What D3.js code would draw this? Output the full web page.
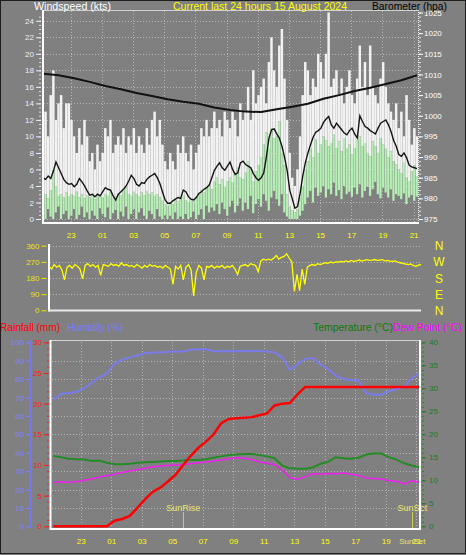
<!DOCTYPE html>
<html>
<head>
<meta charset="utf-8">
<script src="https://cdn.jsdelivr.net/npm/d3@7"></script>
<style>
  body { margin: 0; background: #808080; }
  svg { display: block; }
</style>
</head>
<body>
<div id="chart"></div>
<script>
// samples start at 21:13 and cover 24 hours
const startHour = 21 + 13 / 60;

// x tick positions (hours, > 24 means next day) and their labels
const tickHours = [23, 25, 27, 29, 31, 33, 35, 37, 39, 41, 43, 45];
const hourLabels = ['23', '01', '03', '05', '07', '09', '11', '13', '15', '17', '19', '21'];

// windspeed, 10 minute samples (kts)
const windGust = [11,13,10,15,18,12,14,15,11,14,14,12, 10,8,11,9,12,10, 7,8,6,9,7,8, 11,10,12,8,9,10,
  9,11,8,10,9,11, 8,10,9,8,11,9, 12,13,10,12,9,7, 6,8,7,6,9,8, 10,8,7,9,6,8, 9,11,10,12,10,11,
  13,11,12,10,13,12, 11,13,12,10,14,12, 13,16,12,18,14,15, 16,17,14,19,22,18, 16,21,23,17,12,8,
  5,4,6,10,15,19, 18,15,17,16,20,19, 17,20,25,16,17,18, 15,17,14,16,18,15, 14,17,21,16,19,15,
  21,16,15,14,17,19, 16,14,13,12,14,11, 13,10,15,12,9,11,10];
const windLullHigh = [2.7,3,2.5,3.5,5.9,4,2.8,3,2.6,3.2,2.7,3, 2.8,3.3,2.6,3,2.5,2.9, 2.6,2.8,2.4,3,2.7,2.6,
  3,2.8,3.2,2.5,2.7,3, 2.9,3.4,3.8,3,2.8,3.3, 3,2.7,3.2,2.9,3.4,3, 3.2,2.8,3,2.6,2.2,1.8,
  1.6,2,1.8,2.3,2.1,2.5, 2.8,2.3,2,2.4,2.2,2.6, 3,3.5,3.2,3.8,4.2,3.6, 4.5,5,4.2,4.8,3.9,4.6,
  5,4.4,5.5,6.2,5,4.8, 5.6,7,6,4.5,5.8,6.5, 7.5,9,10.5,8.5,11,9.8, 10,11.8,8,6.5,3,1.5,
  1,0.8,1.2,2.5,4,6, 7,8.5,7.5,9.6,8,9, 10,9.5,8.8,9.2,10.2,8.6, 9.4,8.2,9.8,8.5,9,7.8,
  8.6,9.5,10,8.8,9.2,8, 7.6,9.4,8.8,8,9.8,9, 8.5,7.5,8.2,7,6.6,6, 5.5,6.8,5,4.6,5.8,6.5,5.2];
const windLullLow = [0.5,0,1.2,0.3,0,0.8,1.5,0,0.6,1,0,0.4, 1.2,0,0.5,1.5,0.2,0.8, 0,1,0.4,0,1.3,0.6,
  0.2,1.4,0,0.7,1.1,0, 0.9,0.3,1.5,0,0.6,1.2, 0,0.8,1.3,0.4,0,1, 0.6,0,1.2,0.3,0,0.5,
  0,0.4,0,0.8,0,0.3, 0,0.6,0,0.2,0.9,0, 0.5,1.2,0,1.6,0.8,1.4, 1,1.8,0.6,2,1.2,0.4,
  1.5,2.2,0.8,1.6,2.5,1, 2,1.2,2.8,0.7,1.8,2.4, 1.5,3,2.2,1,2.6,3.4, 2.4,1.6,3,0.8,0.3,0,
  0,0,0,0.4,1,1.8, 2.6,3.4,2,3.8,2.8,3.2, 4,2.6,3.6,3,4.4,2.8, 3.5,2.4,4,3,3.3,2.7,
  3.8,3,4.2,2.6,3.4,3.9, 2.8,3.6,4.5,3,2.5,3.8, 3.2,2.6,3.6,2.2,3,2.8, 2.4,3.1,1.8,2.6,2.9,2.2,2.7];
const windAvg = [5.0,4.8,5.2,4.9,5.8,6.9,6.2,5.5,4.8,4.4, 4.2,4.3,3.9,4.2,4.9,4.5,4.0,3.4,2.9,3.0,
  2.7,3.0,2.8,3.3,3.8,3.6,3.5,2.8,2.3,3.0, 3.3,3.6,4.0,4.6,5.3,4.9,4.2,4.0,4.4,4.3,
  4.8,5.1,5.3,5.5,5.0,4.3,3.3,2.3,1.9,1.9, 2.2,2.4,2.6,2.5,3.5,3.3,2.7,2.4,2.3,2.6,
  3.1,3.3,3.6,3.8,4.1,5.0,5.9,6.4,6.8,6.2, 5.9,6.4,6.9,6.0,5.4,5.6,6.8,7.0,6.6,6.4,
  6.2,5.5,5.0,4.7,5.0,5.6,7.5,9.8,10.8,10.9, 10.3,9.8,8.8,7.5,5.9,3.5,2.4,1.3,1.5,3.1,
  5.2,6.8,8.0,9.0,9.9,10.5,10.7,11.0,11.7,12.1, 12.4,11.4,11.0,11.6,11.2,10.8,10.4,10.2,10.7,11.0,
  10.3,9.8,12.5,11.8,11.2,11.0,10.7,10.5,10.3,11.0, 11.6,11.8,12.0,11.4,10.6,9.5,8.8,7.8,7.6,8.0,
  7.4,6.5,6.3,6.2,6.1];

// barometer, hourly (hpa)
const baroHpa = [1010.2,1009.8,1009.1,1008.2,1007.2,1006.4,1005.5,1004.8,1004.0,1003.4,1002.9,1002.0,
  1001.4,1001.0,1000.9,1001.6,1002.2,1002.9,1004.1,1005.0,1006.0,1006.8,1007.7,1008.6,1009.8];

// wind direction, 10 minute samples (deg)
const windDir = [245,230,255,240,250,225,170,240,250,235, 255,245,230,175,250,260,245,255,240,250,
  195,255,250,245,260,250,255,245,265,250, 255,245,250,240,255,245,235,250,240,255,
  245,250,240,245,235,250,240,230,145,245, 230,250,170,240,255,225,80,210,250,235,
  170,245,240,250,235,245,240,250,235,245, 240,250,230,200,245,250,255,245,260,255,
  250,215,275,285,280,285,280,290,305,285, 295,300,315,290,270,105,200,110,230,145,
  240,250,255,250,260,255,260,265,262,270, 265,270,268,272,270,275,270,278,272,275,
  280,275,278,282,278,280,283,278,280,282, 276,278,274,272,275,268,265,262,258,255,
  258,250,245,252,255];

// 30 minute samples
const humidity = [69,72,72.5,73,75,78,81,83,88.5,90.5, 91.8,92.8,94,94.5,94.5,94.8,95,95,96,96.2,
  96.2,95.2,95.2,95.3,95.2,95.3,95.2,95.3,95,94.5, 92,85,88,91,91.5,88,85.5,82,80,79.5,
  79.2,72.5,71.5,71.5,73.5,74.5,76,80.5,83];
const rainfall = [0,0,0,0,0,0,0,0,0.9,1.2, 1.7,3.0,4.4,5.6,6.3,7.3,8.4,10.0,11.5,12.8,
  13.8,15.0,16.8,17.5,17.6,17.7,17.8,18.1,18.4,19.7, 20.0,20.1,21.5,22.7,22.7,22.7,22.7,22.7,22.7,22.7,
  22.7,22.7,22.7,22.7,22.7,22.7,22.7,22.7,22.7];
const temperature = [15.3,15.0,14.7,14.6,14.5,14.2,14.3,13.8,13.5,13.5, 13.6,13.8,13.9,14.0,14.1,14.2,14.2,14.3,14.4,14.4,
  14.6,14.9,15.2,15.5,15.6,15.7,15.7,15.5,15.2,14.8, 13.2,12.6,12.5,12.5,12.8,13.6,14.0,15.0,14.8,14.7,
  14.9,15.6,15.8,15.8,15.0,14.5,13.7,13.2,12.8];
const dewPoint = [9.5,9.7,9.6,9.7,10.0,10.3,10.7,11.0,11.3,11.7, 12.0,12.3,12.6,12.9,13.1,13.2,13.3,13.4,13.6,13.8,
  14.0,14.2,14.4,14.7,14.9,14.8,14.5,14.0,13.7,13.4, 12.2,10.6,10.2,10.8,11.4,11.3,11.5,11.4,11.6,11.3,
  11.1,10.5,10.4,10.3,9.9,9.8,9.2,9.9,9.6];

const sunRise = 29 + 44 / 60;
const sunSet = 44 + 45 / 60;

const FONT = '"Liberation Sans", Arial, sans-serif';
const GRID = '#b4b4b4';

// sample time of index i in a series of length n
const timeOf = (i, n) => startHour + 24 * i / (n - 1);

const svg = d3.select('#chart').append('svg')
    .attr('width', 466).attr('height', 555)
    .attr('font-family', FONT);

svg.append('rect').attr('x', 0.5).attr('y', 0.5).attr('width', 465).attr('height', 553)
    .attr('fill', '#808080').attr('stroke', '#1e1e1e');

function styleAxis(g, color, size) {
  g.attr('font-family', FONT).attr('font-size', size);
  g.select('.domain').remove();
  g.selectAll('line').attr('stroke', color);
  g.selectAll('text').attr('fill', color);
}

function title(txt, x, y, len, color, size) {
  svg.append('text').attr('x', x).attr('y', y).attr('fill', color)
      .attr('font-size', size).attr('textLength', len).attr('lengthAdjust', 'spacingAndGlyphs')
      .text(txt);
}

function hGrid(g, ys, x1, x2) {
  g.selectAll(null).data(ys).join('line')
      .attr('x1', x1).attr('x2', x2)
      .attr('y1', d => Math.round(d) + 0.5).attr('y2', d => Math.round(d) + 0.5)
      .attr('stroke', GRID).attr('stroke-dasharray', '1,2');
}

function vGrid(g, xs, y1, y2) {
  g.selectAll(null).data(xs).join('line')
      .attr('x1', d => Math.round(d) + 0.5).attr('x2', d => Math.round(d) + 0.5)
      .attr('y1', y1).attr('y2', y2)
      .attr('stroke', GRID).attr('stroke-dasharray', '1,2');
}

// ---------------- windspeed / barometer ----------------
const xTop = d3.scaleLinear().domain([startHour, startHour + 24]).range([43, 417]);
const yWind = d3.scaleLinear().domain([0, 25]).range([219, 12.5]);
const yBaro = d3.scaleLinear().domain([975, 1025]).range([219, 12.5]);

const gTop = svg.append('g');
hGrid(gTop, d3.range(0, 25, 2).map(yWind), 44, 417);
vGrid(gTop, tickHours.map(xTop), 11, 222);

svg.append('clipPath').attr('id', 'clipTop').append('rect')
    .attr('x', 44).attr('y', 10).attr('width', 374).attr('height', 212);

const nW = windGust.length;
const step = xTop(timeOf(1, nW)) - xTop(timeOf(0, nW));
const bars = gTop.append('g').attr('clip-path', 'url(#clipTop)');

bars.selectAll('.gust').data(windGust).join('rect')
    .attr('class', 'gust')
    .attr('x', (d, i) => xTop(timeOf(i, nW)) - step / 2)
    .attr('width', step * 0.95)
    .attr('y', d => yWind(d))
    .attr('height', (d, i) => Math.max(0, yWind(windLullHigh[i]) - yWind(d)))
    .attr('fill', '#f2f2f2');

bars.selectAll('.lull').data(windLullHigh).join('rect')
    .attr('class', 'lull')
    .attr('x', (d, i) => xTop(timeOf(i, nW)) - step / 2)
    .attr('width', step * 0.85)
    .attr('y', d => yWind(d))
    .attr('height', (d, i) => Math.max(0.5, yWind(windLullLow[i]) - yWind(d)))
    .attr('fill', '#b6eeb6');

bars.append('path').datum(windAvg)
    .attr('d', d3.line().x((d, i) => xTop(timeOf(i, nW))).y(d => yWind(d)))
    .attr('fill', 'none').attr('stroke', '#141414').attr('stroke-width', 1.4);

bars.append('path').datum(baroHpa)
    .attr('d', d3.line().x((d, i) => xTop(timeOf(i, baroHpa.length))).y(d => yBaro(d)))
    .attr('fill', 'none').attr('stroke', '#111').attr('stroke-width', 2);

// frame
gTop.append('line').attr('x1', 43).attr('x2', 418).attr('y1', 10.5).attr('y2', 10.5).attr('stroke', '#d0d0d0');
gTop.append('line').attr('x1', 418.5).attr('x2', 418.5).attr('y1', 10).attr('y2', 223)
    .attr('stroke', '#f0f0f0').attr('stroke-dasharray', '1,1');
gTop.append('line').attr('x1', 43).attr('x2', 43).attr('y1', 10).attr('y2', 224).attr('stroke', '#fff').attr('stroke-width', 2);
gTop.append('line').attr('x1', 42).attr('x2', 419).attr('y1', 223).attr('y2', 223).attr('stroke', '#fff').attr('stroke-width', 2);

gTop.append('g').attr('transform', 'translate(41,0)')
    .call(d3.axisLeft(yWind).tickValues(d3.range(0, 25, 0.5)).tickSize(2).tickFormat(''))
    .call(g => styleAxis(g, '#d8d8d8', 8));
gTop.append('g').attr('transform', 'translate(41,0)')
    .call(d3.axisLeft(yWind).tickValues(d3.range(0, 25, 2)).tickSize(5).tickPadding(2))
    .call(g => styleAxis(g, '#eeeef8', 8));

gTop.append('g').attr('transform', 'translate(419,0)')
    .call(d3.axisRight(yBaro).tickValues(d3.range(975, 1026, 1)).tickSize(2).tickFormat(''))
    .call(g => styleAxis(g, '#e8e8e8', 8));
gTop.append('g').attr('transform', 'translate(419,0)')
    .call(d3.axisRight(yBaro).tickValues(d3.range(975, 1026, 5)).tickSize(4).tickPadding(1).tickFormat(d3.format('d')))
    .call(g => styleAxis(g, '#ffffff', 8));

gTop.append('g').attr('transform', 'translate(0,223)')
    .call(d3.axisBottom(xTop).tickValues(tickHours).tickFormat((d, i) => hourLabels[i]).tickSize(0).tickPadding(9))
    .call(g => styleAxis(g, '#ffff00', 8));

title('Windspeed (kts)', 34, 9.5, 77, '#ffffff', 11);
title('Current last 24 hours 15 August 2024', 173, 9.5, 174, '#ffff00', 11);
title('Barometer (hpa)', 372, 9.5, 75, '#000000', 11);

// ---------------- wind direction ----------------
const xDir = d3.scaleLinear().domain([startHour, startHour + 24]).range([49, 421]);
const yDir = d3.scaleLinear().domain([0, 360]).range([310.3, 245.7]);

const gDir = svg.append('g');
hGrid(gDir, [90, 180, 270, 360].map(yDir), 50, 421);

gDir.append('path').datum(windDir)
    .attr('d', d3.line().x((d, i) => xDir(timeOf(i, windDir.length))).y(d => yDir(d)))
    .attr('fill', 'none').attr('stroke', '#ffff00').attr('stroke-width', 1.3);

gDir.append('line').attr('x1', 49).attr('x2', 49).attr('y1', 244).attr('y2', 311.5).attr('stroke', '#fff').attr('stroke-width', 2);
gDir.append('line').attr('x1', 48).attr('x2', 421).attr('y1', 310.5).attr('y2', 310.5).attr('stroke', '#e8e8e8').attr('stroke-width', 2);

gDir.append('g').attr('transform', 'translate(46.5,0)')
    .call(d3.axisLeft(yDir).tickValues([0, 90, 180, 270, 360]).tickSize(5).tickPadding(2))
    .call(g => styleAxis(g, '#e6e600', 8));

const compass = ['N', 'W', 'S', 'E', 'N'];
gDir.selectAll('.cmp').data(compass).join('text')
    .attr('x', 439).attr('y', (d, i) => yDir(360 - i * 90) + 4.5)
    .attr('text-anchor', 'middle').attr('font-size', 12).attr('fill', '#ffff00')
    .text(d => d);

// ---------------- rain / humidity / temperature ----------------
const xBot = d3.scaleLinear().domain([startHour, startHour + 24]).range([53.5, 419.5]);
const yHum = d3.scaleLinear().domain([0, 100]).range([526.3, 342.3]);
const yRain = d3.scaleLinear().domain([0, 30]).range([526.3, 342.3]);
const yTemp = d3.scaleLinear().domain([0, 40]).range([526.3, 342.3]);

const gBot = svg.append('g');
hGrid(gBot, d3.range(10, 100, 10).map(yHum), 52, 419);
vGrid(gBot, tickHours.map(xBot), 342, 528);

// sunrise / sunset markers
[[sunRise, 'SunRise'], [sunSet, 'SunSet']].forEach(([h, label]) => {
  gBot.append('line').attr('x1', Math.round(xBot(h)) + 0.5).attr('x2', Math.round(xBot(h)) + 0.5)
      .attr('y1', 512).attr('y2', 528).attr('stroke', '#cccc55');
  gBot.append('text').attr('x', xBot(h)).attr('y', 511).attr('text-anchor', 'middle')
      .attr('font-size', 9).attr('fill', '#e8e868').text(label);
});

const nB = humidity.length;
const botLine = (arr, y) => d3.line().x((d, i) => xBot(timeOf(i, nB))).y(d => y(d))(arr);

gBot.append('path').attr('d', botLine(humidity, yHum))
    .attr('fill', 'none').attr('stroke', '#7b7bea').attr('stroke-width', 2);
gBot.append('path').attr('d', botLine(temperature, yTemp))
    .attr('fill', 'none').attr('stroke', '#268a26').attr('stroke-width', 2);
gBot.append('path').attr('d', botLine(dewPoint, yTemp))
    .attr('fill', 'none').attr('stroke', '#f020f0').attr('stroke-width', 1.5);
gBot.append('path').attr('d', botLine(rainfall, yRain))
    .attr('fill', 'none').attr('stroke', '#ff0000').attr('stroke-width', 2.5);

// frame
gBot.append('line').attr('x1', 50).attr('x2', 421).attr('y1', 340.5).attr('y2', 340.5).attr('stroke', '#d0d0d0');
gBot.append('line').attr('x1', 50.5).attr('x2', 50.5).attr('y1', 340).attr('y2', 530).attr('stroke', '#fff').attr('stroke-width', 2);
gBot.append('line').attr('x1', 420).attr('x2', 420).attr('y1', 340).attr('y2', 530).attr('stroke', '#fff').attr('stroke-width', 2);
gBot.append('line').attr('x1', 50).attr('x2', 421).attr('y1', 529).attr('y2', 529).attr('stroke', '#fff').attr('stroke-width', 2);

// humidity axis
gBot.append('line').attr('x1', 30.5).attr('x2', 30.5).attr('y1', 340).attr('y2', 528).attr('stroke', '#7878f0').attr('stroke-width', 2);
gBot.append('g').attr('transform', 'translate(30,0)')
    .call(d3.axisLeft(yHum).tickValues(d3.range(0, 101, 10)).tickSize(4).tickPadding(2))
    .call(g => styleAxis(g, '#8080ff', 8));

// rain axis
gBot.append('g').attr('transform', 'translate(49,0)')
    .call(d3.axisLeft(yRain).tickValues(d3.range(0, 31, 1)).tickSize(2).tickFormat(''))
    .call(g => styleAxis(g, '#ff2020', 8));
gBot.append('g').attr('transform', 'translate(49,0)')
    .call(d3.axisLeft(yRain).tickValues(d3.range(0, 31, 5)).tickSize(5).tickPadding(2))
    .call(g => styleAxis(g, '#ff1a1a', 8));

// temperature axis
gBot.append('g').attr('transform', 'translate(422,0)')
    .call(d3.axisRight(yTemp).tickValues(d3.range(0, 41, 1)).tickSize(2).tickFormat(''))
    .call(g => styleAxis(g, '#1f8a1f', 8));
gBot.append('g').attr('transform', 'translate(422,0)')
    .call(d3.axisRight(yTemp).tickValues(d3.range(0, 41, 5)).tickSize(4).tickPadding(3))
    .call(g => styleAxis(g, '#1c7c1c', 8));

gBot.append('g').attr('transform', 'translate(0,529)')
    .call(d3.axisBottom(xBot).tickValues(tickHours).tickFormat((d, i) => hourLabels[i]).tickSize(0).tickPadding(9))
    .call(g => styleAxis(g, '#ffff00', 8));
gBot.append('text').attr('x', xBot(sunSet)).attr('y', 543.7).attr('text-anchor', 'middle')
    .attr('font-size', 8).attr('fill', '#e8e868').text('SunSet');

title('Rainfall (mm)', 0, 331, 60, '#ff0000', 11);
title('Humidity (%)', 67, 331, 56, '#7c7cf8', 11);
title('Temperature (°C)', 313, 331, 80, '#0a7d0a', 11);
title('Dew Point (°C)', 393, 331, 69, '#ff00ff', 11);
</script>
</body>
</html>
